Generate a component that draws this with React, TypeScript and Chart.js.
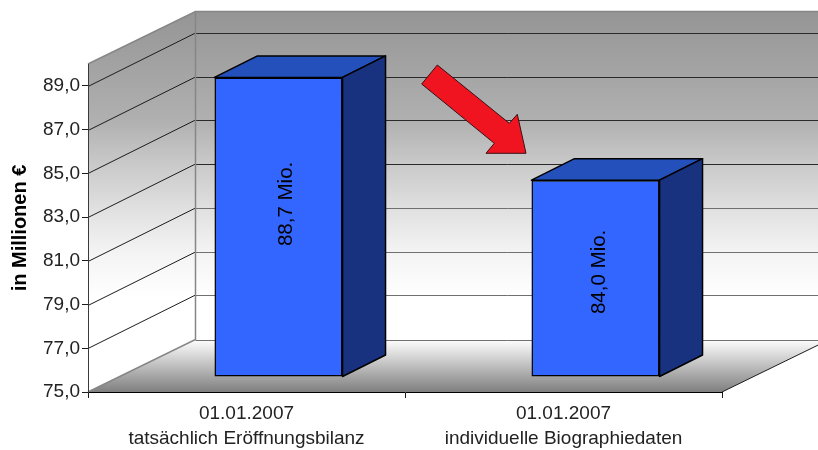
import React, { useEffect, useRef } from "react";
import { Chart, registerables } from "chart.js";

Chart.register(...registerables);

const categories = [
  ["01.01.2007", "tatsächlich Eröffnungsbilanz"],
  ["01.01.2007", "individuelle Biographiedaten"],
];
const values = [88.7, 84.0];
const valueLabels = ["88,7 Mio.", "84,0 Mio."];
const labelFractions = [0.577, 0.533];
const labelOffsets = [7.5, 4];
const yTicks = [75, 77, 79, 81, 83, 85, 87, 89];
const yMin = 75;
const yMax = 90;

const FONT = '"Liberation Sans", Arial, sans-serif';
const WALL = { dx: 107.5, dy: -52.5 };
const BAR_SHIFT = { dx: 32, dy: -15 };
const BAR_DEPTH = { dx: 43, dy: -21.5 };
const ARROW = [
  [437.3, 65], [421.7, 84], [494.3, 143.3], [486, 153.3],
  [526, 153.3], [517.3, 114.3], [509.3, 123.3],
];

function poly(ctx: CanvasRenderingContext2D, pts: number[][]) {
  ctx.beginPath();
  pts.forEach(([x, y], i) => (i ? ctx.lineTo(x, y) : ctx.moveTo(x, y)));
  ctx.closePath();
}

const threeD = {
  id: "threeD",
  beforeDraw(chart: any) {
    const { ctx, chartArea: a, scales } = chart;
    const { dx, dy } = WALL;
    const g = ctx.createLinearGradient(0, a.top + dy, 0, a.bottom + dy);
    g.addColorStop(0, "#959595");
    g.addColorStop(0.33, "#b0b0b0");
    g.addColorStop(0.47, "#cacaca");
    g.addColorStop(0.6, "#e0e0e0");
    g.addColorStop(0.73, "#f3f3f3");
    g.addColorStop(0.87, "#ffffff");
    g.addColorStop(1, "#ffffff");
    ctx.save();
    ctx.fillStyle = g;
    poly(ctx, [[a.left, a.top], [a.left + dx, a.top + dy], [a.left + dx, a.bottom + dy], [a.left, a.bottom]]);
    ctx.fill();
    ctx.fillRect(a.left + dx, a.top + dy, a.right - a.left, a.bottom - a.top);
    const f = ctx.createLinearGradient(0, a.bottom + dy, 0, a.bottom);
    f.addColorStop(0, "#ffffff");
    f.addColorStop(1, "#7f7f7f");
    ctx.fillStyle = f;
    poly(ctx, [[a.left, a.bottom], [a.left + dx, a.bottom + dy], [a.right + dx, a.bottom + dy], [a.right, a.bottom]]);
    ctx.fill();
    ctx.lineWidth = 1;
    yTicks.forEach((v) => {
      const y = Math.round(scales.y.getPixelForValue(v)) + 0.5;
      ctx.strokeStyle = "#1c1c1c";
      if (v !== yMin) {
        ctx.beginPath();
        ctx.moveTo(a.left, y);
        ctx.lineTo(a.left + dx, y + dy - 1);
        ctx.stroke();
      }
      const by = v === yMin ? Math.round(a.bottom + dy) + 0.5 : Math.round(y + dy - 1) + 0.5;
      ctx.strokeStyle = v < 82 ? "#707070" : "#2a2a2a";
      ctx.beginPath();
      ctx.moveTo(a.left + dx, by);
      ctx.lineTo(a.right + dx, by);
      ctx.stroke();
    });
    ctx.strokeStyle = "#868686";
    ctx.lineWidth = 1.5;
    ctx.beginPath();
    ctx.moveTo(a.left, a.top);
    ctx.lineTo(a.left + dx, a.top + dy);
    ctx.lineTo(a.right + dx, a.top + dy);
    ctx.moveTo(a.left + dx, a.top + dy);
    ctx.lineTo(a.left + dx, a.bottom + dy);
    ctx.lineTo(a.left, a.bottom);
    ctx.stroke();
    ctx.strokeStyle = "#1c1c1c";
    ctx.lineWidth = 1;
    ctx.beginPath();
    ctx.moveTo(a.right, a.bottom);
    ctx.lineTo(a.right + dx, a.bottom + dy);
    ctx.stroke();
    ctx.restore();
  },
  beforeDatasetDraw(chart: any) {
    const { ctx } = chart;
    ctx.save();
    ctx.translate(BAR_SHIFT.dx, BAR_SHIFT.dy);
  },
  afterDatasetDraw(chart: any, args: any) {
    const { ctx } = chart;
    const meta = chart.getDatasetMeta(args.index);
    const { dx, dy } = BAR_DEPTH;
    meta.data.forEach((bar: any) => {
      const l = bar.x - bar.width / 2;
      const r = bar.x + bar.width / 2;
      const t = bar.y;
      const b = bar.base;
      ctx.lineWidth = 1.5;
      ctx.lineJoin = "round";
      ctx.strokeStyle = "#000000";
      ctx.fillStyle = "#2450bb";
      poly(ctx, [[l, t], [l + dx, t + dy], [r + dx, t + dy], [r, t]]);
      ctx.fill();
      ctx.stroke();
      ctx.fillStyle = "#18327f";
      poly(ctx, [[r, t], [r + dx, t + dy], [r + dx, b + dy], [r, b]]);
      ctx.fill();
      ctx.stroke();
    });
    ctx.restore();
    meta.data.forEach((bar: any, i: number) => {
      const cx = bar.x + BAR_SHIFT.dx + labelOffsets[i];
      const top = bar.y + BAR_SHIFT.dy;
      const bottom = bar.base + BAR_SHIFT.dy;
      const cy = bottom + (top - bottom) * labelFractions[i];
      ctx.save();
      ctx.translate(cx, cy);
      ctx.rotate(-Math.PI / 2);
      ctx.font = `20.5px ${FONT}`;
      ctx.fillStyle = "#000000";
      ctx.textAlign = "center";
      ctx.textBaseline = "middle";
      ctx.fillText(valueLabels[i], 0, 0);
      ctx.restore();
    });
  },
  afterDraw(chart: any) {
    const { ctx } = chart;
    ctx.save();
    poly(ctx, ARROW);
    ctx.fillStyle = "#f01420";
    ctx.strokeStyle = "#3a1015";
    ctx.lineWidth = 1;
    ctx.fill();
    ctx.stroke();
    ctx.restore();
  },
};

export default function App() {
  const ref = useRef<HTMLCanvasElement>(null);
  useEffect(() => {
    document.body.style.margin = "0";
    const chart = new Chart(ref.current!, {
      type: "bar",
      data: {
        labels: categories,
        datasets: [
          {
            data: values,
            base: yMin,
            clip: false,
            backgroundColor: "#3366ff",
            borderColor: "#000000",
            borderWidth: 1.5,
            borderSkipped: false,
            barPercentage: 0.404,
            categoryPercentage: 1,
          },
        ],
      },
      plugins: [threeD],
      options: {
        responsive: false,
        animation: false,
        layout: { padding: { top: 64, right: 96, left: 0, bottom: 0 } },
        plugins: { legend: { display: false }, tooltip: { enabled: false } },
        scales: {
          x: {
            afterFit: (s: any) => { s.height = 58; },
            grid: { drawOnChartArea: false, drawTicks: true, tickLength: 6, color: "#1c1c1c" },
            border: { color: "#000000", width: 1 },
            ticks: {
              color: "#222222",
              font: { family: FONT, size: 19, lineHeight: 1.32 },
              padding: 3,
              maxRotation: 0,
              autoSkip: false,
            },
          },
          y: {
            min: yMin,
            max: yMax,
            afterFit: (s: any) => { s.width = 88; },
            afterBuildTicks: (s: any) => { s.ticks = yTicks.map((value) => ({ value })); },
            grid: { drawOnChartArea: false, drawTicks: true, tickLength: 6, color: "#1c1c1c" },
            border: { color: "#3a3a3a", width: 1 },
            title: {
              display: true,
              text: "in Millionen €",
              color: "#000000",
              font: { family: FONT, size: 20, weight: "bold" },
              padding: { top: 8, bottom: 0 },
            },
            ticks: {
              color: "#222222",
              font: { family: FONT, size: 19 },
              padding: 2,
              callback: (v: any) => Number(v).toFixed(1).replace(".", ","),
            },
          },
        },
      },
    } as any);
    return () => chart.destroy();
  }, []);
  return <canvas ref={ref} width={818} height={450} style={{ display: "block" }} />;
}
